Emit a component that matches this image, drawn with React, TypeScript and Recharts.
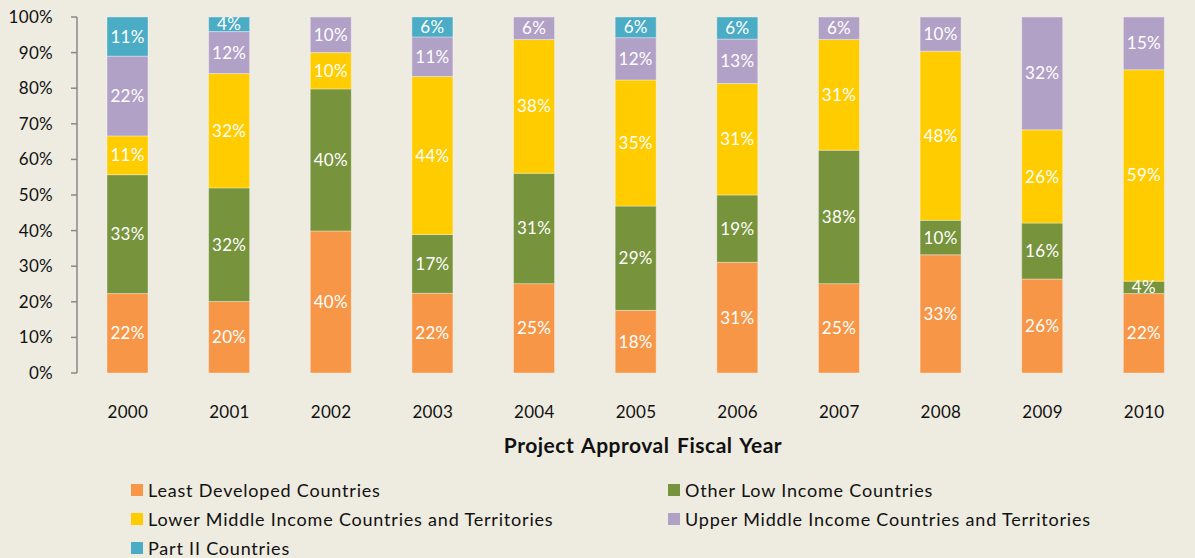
import React from 'react';
import { BarChart, Bar, XAxis, YAxis, LabelList } from 'recharts';

const years = ['2000', '2001', '2002', '2003', '2004', '2005', '2006', '2007', '2008', '2009', '2010'];
const leastDeveloped = [22.3, 20.1, 39.9, 22.4, 25.1, 17.6, 31.1, 25.1, 33.2, 26.4, 22.3];
const otherLowIncome = [33.4, 31.9, 39.9, 16.5, 31.0, 29.3, 18.9, 37.5, 9.7, 15.7, 3.5];
const lowerMiddle = [10.9, 32.1, 10.2, 44.4, 37.6, 35.4, 31.3, 31.1, 47.5, 26.2, 59.4];
const upperMiddle = [22.4, 11.8, 10.0, 11.1, 6.3, 11.9, 12.5, 6.3, 9.6, 31.7, 14.8];
const partII = [11.0, 4.1, 0, 5.6, 0, 5.8, 6.2, 0, 0, 0, 0];
const yTicks = [0, 10, 20, 30, 40, 50, 60, 70, 80, 90, 100];
const boundaryTicks = [0, 1, 2, 3, 4, 5, 6, 7, 8, 9, 10, 11];

const seriesNames = [
  'Least Developed Countries',
  'Other Low Income Countries',
  'Lower Middle Income Countries and Territories',
  'Upper Middle Income Countries and Territories',
  'Part II Countries',
];
const seriesKeys = ['ldc', 'oli', 'lmi', 'umi', 'p2'];
const seriesColors = ['#F79646', '#77933C', '#FFCC00', '#B2A1C7', '#4BACC6'];

const data = years.map((y, i) => ({
  year: y,
  idx: i + 0.5,
  ldc: leastDeveloped[i],
  oli: otherLowIncome[i],
  lmi: lowerMiddle[i],
  umi: upperMiddle[i],
  p2: partII[i],
}));

const FONT = 'Lato, "Open Sans", sans-serif';
const AXIS = '#898989';

const fmt = (v: any) => (v && v > 0 ? `${Math.round(v)}%` : '');

export default function App() {
  const legendRows: [number, number][] = [
    [0, 1],
    [2, 3],
    [4, -1],
  ];
  return (
    <div
      style={{
        position: 'absolute',
        left: 0,
        top: 0,
        width: 1195,
        height: 558,
        background: '#EEEBE0',
        fontFamily: FONT,
        overflow: 'hidden',
      }}
    >
      <BarChart
        width={1195}
        height={433}
        data={data}
        margin={{ top: 17, right: 0, left: 0, bottom: 0 }}
        barSize={41}
        barCategoryGap={0}
      >
        <XAxis
          xAxisId="grid"
          type="number"
          dataKey="idx"
          domain={[0, 11]}
          ticks={boundaryTicks}
          tickFormatter={() => ''}
          height={0}
          tickSize={7}
          stroke={AXIS}
          axisLine={{ stroke: AXIS, strokeWidth: 1.5 }}
          tickLine={{ stroke: AXIS, strokeWidth: 1.5 }}
          allowDataOverflow
        />
        <XAxis
          dataKey="year"
          height={60}
          axisLine={false}
          tickLine={false}
          tickMargin={27}
          interval={0}
          tick={{ fill: '#111', fontSize: 17, fontFamily: FONT, letterSpacing: 0.3 }}
        />
        <YAxis
          width={77}
          domain={[0, 100]}
          ticks={yTicks}
          interval={0}
          tickFormatter={(v: number) => `${v}%`}
          tickSize={6}
          tickMargin={18}
          axisLine={{ stroke: AXIS, strokeWidth: 1.5 }}
          tickLine={{ stroke: AXIS, strokeWidth: 1.5 }}
          tick={{ fill: '#111', fontSize: 17, fontFamily: FONT, letterSpacing: 0.3 }}
          allowDataOverflow
        />
        {seriesKeys.map((k, i) => (
          <Bar
            key={k}
            dataKey={k}
            stackId="a"
            fill={seriesColors[i]}
            stroke="#ffffff"
            strokeOpacity={0.35}
            strokeWidth={1}
            isAnimationActive={false}
          >
            <LabelList
              dataKey={k}
              position="center"
              formatter={fmt}
              fill="#ffffff"
              style={{ fontSize: 17, fontFamily: FONT, fill: '#ffffff', letterSpacing: 0.3 }}
            />
          </Bar>
        ))}
      </BarChart>
      <div
        style={{
          position: 'absolute',
          left: 77,
          width: 1118,
          top: 431,
          textAlign: 'center',
          fontWeight: 'bold',
          fontSize: 21,
          letterSpacing: 0.5,
          wordSpacing: 2,
          color: '#111',
          paddingLeft: 14,
          boxSizing: 'border-box',
          lineHeight: '28px',
        }}
      >
        Project Approval Fiscal Year
      </div>
      {legendRows.map((row, r) =>
        row.map((si, c) =>
          si < 0 ? null : (
            <div
              key={`${r}-${c}`}
              style={{
                position: 'absolute',
                left: c === 0 ? 131 : 668,
                top: 478 + r * 29,
                height: 24,
                display: 'flex',
                alignItems: 'center',
                fontSize: 18,
                letterSpacing: 0.8,
                lineHeight: '24px',
                color: '#111',
                whiteSpace: 'nowrap',
              }}
            >
              <span
                style={{
                  display: 'inline-block',
                  width: 12,
                  height: 12,
                  background: seriesColors[si],
                  marginRight: 5,
                }}
              />
              {seriesNames[si]}
            </div>
          )
        )
      )}
    </div>
  );
}
